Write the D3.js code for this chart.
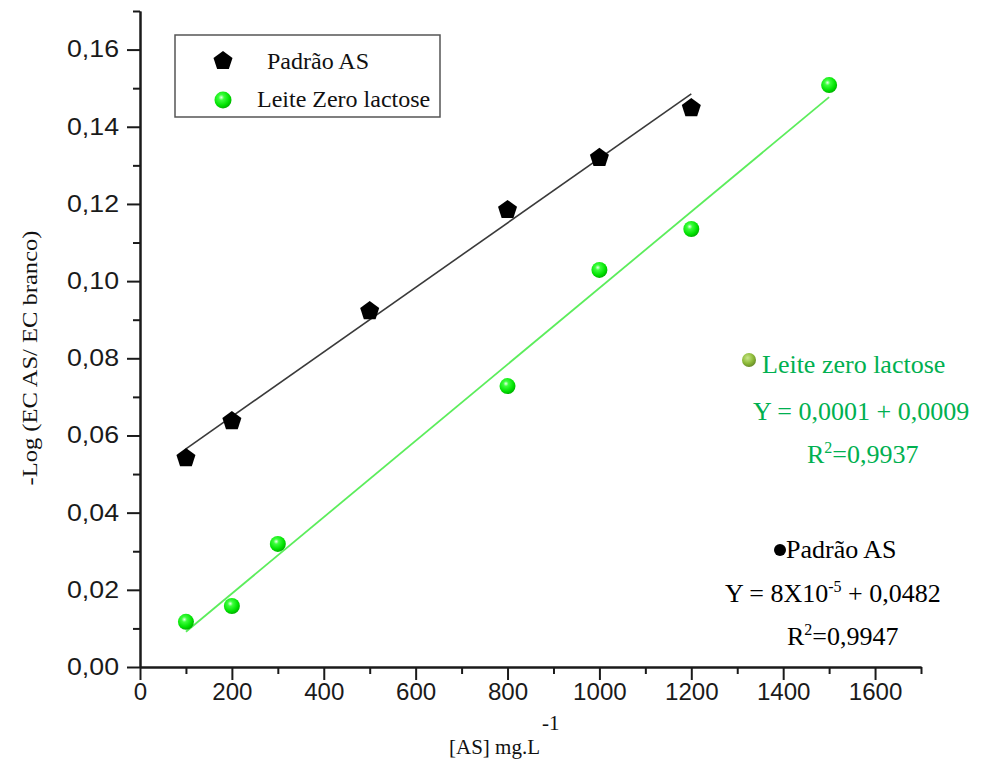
<!DOCTYPE html>
<html><head><meta charset="utf-8">
<script src="https://cdn.jsdelivr.net/npm/d3@7"></script>
<style>body{margin:0;background:#fff}svg{display:block}</style>
</head><body>
<svg id="c" width="982" height="780"></svg>
<script>
// ---- data ----
const padraoX = [100, 200, 500, 800, 1000, 1200];
const padraoY = [0.0544, 0.0640, 0.0925, 0.1187, 0.1322, 0.1451];
const leiteX = [100, 200, 300, 800, 1000, 1200, 1500];
const leiteY = [0.0117, 0.0158, 0.0319, 0.0728, 0.1029, 0.1135, 0.1508];
const xMajorTicks = [0, 200, 400, 600, 800, 1000, 1200, 1400, 1600];
const xMinorTicks = [100, 300, 500, 700, 900, 1100, 1300, 1500, 1700];
const yMajorTicks = [0, 0.02, 0.04, 0.06, 0.08, 0.10, 0.12, 0.14, 0.16];
const yMinorTicks = [0.01, 0.03, 0.05, 0.07, 0.09, 0.11, 0.13, 0.15, 0.17];
const legendLabels = ["Padrão AS", "Leite Zero lactose"];

const svg = d3.select("#c");
const serif = "'Liberation Serif', 'Times New Roman', serif";
const sans = "'Liberation Sans', Arial, sans-serif";

const x = d3.scaleLinear().domain([0, 1700]).range([140, 921]);
const y = d3.scaleLinear().domain([0, 0.17]).range([667, 11]);

// defs: gradients
const defs = svg.append("defs");
const g1 = defs.append("radialGradient").attr("id","gball").attr("cx","40%").attr("cy","35%").attr("r","65%");
g1.append("stop").attr("offset","0%").attr("stop-color","#e8ffe8");
g1.append("stop").attr("offset","25%").attr("stop-color","#3cff3c");
g1.append("stop").attr("offset","75%").attr("stop-color","#00e000");
g1.append("stop").attr("offset","100%").attr("stop-color","#00b400");
const g2 = defs.append("radialGradient").attr("id","oball").attr("cx","40%").attr("cy","35%").attr("r","65%");
g2.append("stop").attr("offset","0%").attr("stop-color","#c8e68a");
g2.append("stop").attr("offset","60%").attr("stop-color","#8fbc3a");
g2.append("stop").attr("offset","100%").attr("stop-color","#6a8f2a");

// least-squares fit
function fit(xs, ys){
  const mx = d3.mean(xs), my = d3.mean(ys);
  let sxy=0,sxx=0;
  xs.forEach((v,i)=>{sxy+=(v-mx)*(ys[i]-my); sxx+=(v-mx)*(v-mx);});
  const b = sxy/sxx, a = my - b*mx;
  const x0 = d3.min(xs), x1 = d3.max(xs);
  return [[x0, a+b*x0],[x1, a+b*x1]];
}
const line = d3.line().x(d=>x(d[0])).y(d=>y(d[1]));

// axes
const fmtY = d => d3.format(".2f")(d).replace(".", ",");
const yMinor = svg.append("g").attr("transform","translate(140,0)")
  .call(d3.axisLeft(y).tickValues(yMinorTicks).tickSize(7).tickSizeOuter(0).tickFormat(""));
const yMajor = svg.append("g").attr("transform","translate(140,0)")
  .call(d3.axisLeft(y).tickValues(yMajorTicks).tickSize(13).tickSizeOuter(0).tickPadding(8).tickFormat(fmtY));
const xMinor = svg.append("g").attr("transform","translate(0,667)")
  .call(d3.axisBottom(x).tickValues(xMinorTicks).tickSize(7).tickSizeOuter(0).tickFormat(""));
const xMajor = svg.append("g").attr("transform","translate(0,667)")
  .call(d3.axisBottom(x).tickValues(xMajorTicks).tickSize(13).tickSizeOuter(0).tickPadding(4).tickFormat(d3.format("d")));
[yMinor,yMajor,xMinor,xMajor].forEach(g=>{
  g.selectAll("path.domain").attr("stroke","#1a1a1a").attr("stroke-width",2);
  g.selectAll(".tick line").attr("stroke","#1a1a1a").attr("stroke-width",2);
});
yMajor.selectAll("text").attr("font-family",sans).attr("font-size",23).attr("fill","#1a1a1a")
  .attr("textLength",52).attr("lengthAdjust","spacingAndGlyphs");
xMajor.selectAll("text").attr("font-family",sans).attr("font-size",23).attr("fill","#1a1a1a")
  .attr("textLength",function(d){return 13.4*String(d).length;}).attr("lengthAdjust","spacingAndGlyphs");

// fit lines
svg.append("path").attr("d", line(fit(padraoX,padraoY))).attr("fill","none").attr("stroke","#3a3a3a").attr("stroke-width",1.6);
svg.append("path").attr("d", line(fit(leiteX,leiteY))).attr("fill","none").attr("stroke","#5ced5c").attr("stroke-width",1.8);

// pentagon path
function pentagon(r){
  const pts = d3.range(5).map(i=>{const a=-Math.PI/2+i*2*Math.PI/5;return [r*Math.cos(a), r*Math.sin(a)];});
  return "M"+pts.map(p=>p.join(",")).join("L")+"Z";
}

// points
svg.append("g").selectAll("path").data(padraoX.map((v,i)=>[v,padraoY[i]])).join("path")
  .attr("transform",d=>`translate(${x(d[0])},${y(d[1])+1})`).attr("d",pentagon(10)).attr("fill","#000");
svg.append("g").selectAll("circle").data(leiteX.map((v,i)=>[v,leiteY[i]])).join("circle")
  .attr("cx",d=>x(d[0])).attr("cy",d=>y(d[1])).attr("r",8).attr("fill","url(#gball)");

// legend
svg.append("rect").attr("x",175).attr("y",35).attr("width",265).attr("height",82)
  .attr("fill","#fff").attr("stroke","#555").attr("stroke-width",1.5);
svg.append("path").attr("transform","translate(223,61)").attr("d",pentagon(10)).attr("fill","#000");
svg.append("circle").attr("cx",223).attr("cy",100).attr("r",8.5).attr("fill","url(#gball)");
svg.append("text").attr("x",267).attr("y",69).attr("font-family",serif).attr("font-size",24).attr("fill","#111").text(legendLabels[0]);
svg.append("text").attr("x",257).attr("y",107).attr("font-family",serif).attr("font-size",24).attr("fill","#111").text(legendLabels[1]);

// annotations
const green = "#00b050";
svg.append("circle").attr("cx",749).attr("cy",360).attr("r",7).attr("fill","url(#oball)");
svg.append("text").attr("x",762).attr("y",373).attr("font-family",serif).attr("font-size",26).attr("fill",green).text("Leite zero lactose");
svg.append("text").attr("x",753).attr("y",420).attr("font-family",serif).attr("font-size",26).attr("fill",green).text("Y = 0,0001 + 0,0009");
const r1 = svg.append("text").attr("x",807).attr("y",463).attr("font-family",serif).attr("font-size",26).attr("fill",green);
r1.append("tspan").text("R");
r1.append("tspan").attr("dy",-10).attr("font-size",16).text("2");
r1.append("tspan").attr("dy",10).text("=0,9937");

svg.append("circle").attr("cx",780).attr("cy",550).attr("r",6).attr("fill","#000");
svg.append("text").attr("x",786).attr("y",558).attr("font-family",serif).attr("font-size",26).attr("fill","#000").text("Padrão AS");
const eq = svg.append("text").attr("x",725).attr("y",602).attr("font-family",serif).attr("font-size",26).attr("fill","#000");
eq.append("tspan").text("Y = 8X10");
eq.append("tspan").attr("dy",-10).attr("font-size",16).text("-5");
eq.append("tspan").attr("dy",10).text(" + 0,0482");
const r2 = svg.append("text").attr("x",787).attr("y",645).attr("font-family",serif).attr("font-size",26).attr("fill","#000");
r2.append("tspan").text("R");
r2.append("tspan").attr("dy",-10).attr("font-size",16).text("2");
r2.append("tspan").attr("dy",10).text("=0,9947");

// axis titles
const xt = svg.append("text").attr("x",449).attr("y",754).attr("font-family",serif).attr("font-size",21).attr("fill","#111");
xt.append("tspan").text("[AS] mg.L");
xt.append("tspan").attr("dy",-24).attr("dx",2).text("-1");
svg.append("text").attr("transform","translate(37,358) rotate(-90)").attr("text-anchor","middle")
  .attr("font-family",serif).attr("font-size",21).attr("fill","#111")
  .attr("textLength",255).attr("lengthAdjust","spacingAndGlyphs")
  .text("-Log (EC AS/ EC branco)");
</script>
</body></html>
